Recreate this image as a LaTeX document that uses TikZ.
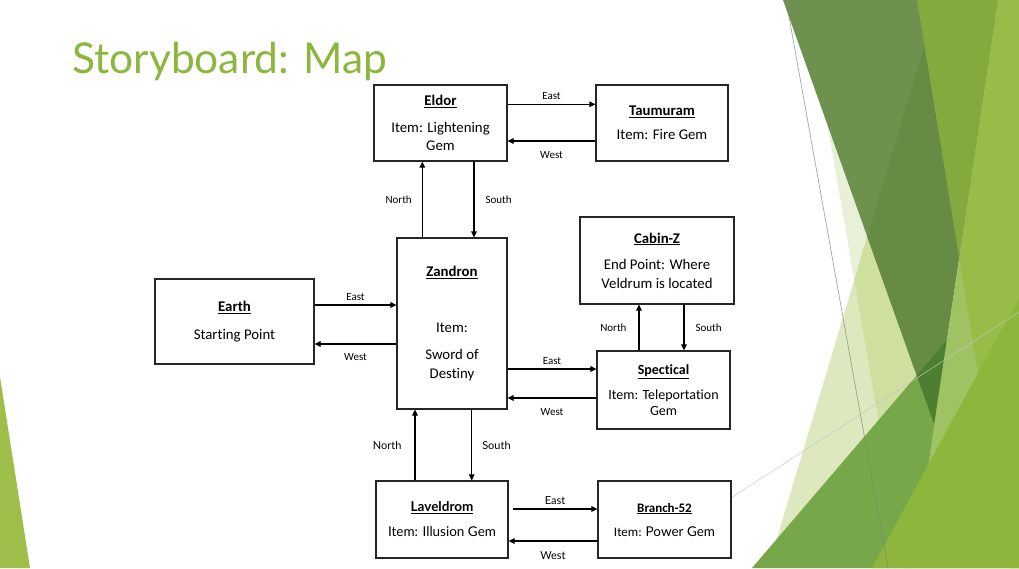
\documentclass[tikz,border=0pt]{standalone}
\usepackage{fontspec}
\setmainfont{Carlito}[Ligatures=NoCommon]
\newfontfamily\twcen{Lato}
\usetikzlibrary{positioning,arrows.meta}
\definecolor{titlegreen}{RGB}{140,182,60}
\definecolor{edgegreen}{RGB}{158,190,74}
\definecolor{facetQ}{HTML}{E8F0D8}
\definecolor{facetP}{HTML}{DDE8BE}
\definecolor{facetPQ}{HTML}{CEDF9F}
\definecolor{facetD}{HTML}{6E9150}
\definecolor{facetDP}{HTML}{678B45}
\definecolor{facetR}{HTML}{9FC262}
\definecolor{facetED}{HTML}{84A93F}
\definecolor{facetER}{HTML}{97BC48}
\definecolor{facetF}{HTML}{76A84A}
\definecolor{facetFD}{HTML}{4E7F30}
\definecolor{facetG}{HTML}{8EB63C}
\newcommand{\place}[1]{\textbf{\underline{#1}}}
\newcommand{\txt}[2]{\fontsize{#1}{#2}\selectfont}
\def\shQ{(806,0) -- (1019,0) -- (1019,568) -- (904,568) -- cycle}
\def\shP{(938,0) -- (1019,0) -- (1019,568) -- (768,568) -- cycle}
\def\shD{(783,0) -- (998,0) -- (934,424) -- cycle}
\def\shR{(998,0) -- (1019,0) -- (1019,568) -- (913,568) -- cycle}
\def\shE{(917,0) -- (1019,0) -- (1019,568) -- (1010,568) -- cycle}
\def\shF{(752,568) -- (947,340) -- (913,568) -- cycle}
\def\shG{(872,568) -- (1019,298) -- (1019,568) -- cycle}

\begin{document}
\begin{tikzpicture}[x=1pt, y=-1pt, >={Triangle[length=6pt, width=5.5pt]}]
\tikzset{
    every node/.style = {align=center, inner sep=0pt},
    box/.style = {draw=black!85, rectangle, line width=1.1pt, fill=white,
                  minimum width=133pt, minimum height=76pt, font=\txt{14.8}{18.5}},
    dir/.style = {font=\txt{11}{13}},
    twdir/.style = {font=\twcen\txt{11}{13}},
    link/.style = {->, line width=1.1pt}
}

% -------------------------------------------------------
% slide backdrop
\fill[white] (0,0) rectangle (1019,568);
\useasboundingbox (0,0) rectangle (1019,568);
\fill[edgegreen] (0,377) -- (30,568) -- (0,568) -- cycle;

\fill[facetQ] \shQ;
\fill[facetP] \shP;
\begin{scope} \clip \shP; \fill[facetPQ] \shQ; \end{scope}
\fill[facetD] \shD;
\begin{scope} \clip \shD; \fill[facetDP] \shP; \end{scope}
\fill[facetR] \shR;
\begin{scope} \clip \shE; \fill[facetED] \shD; \fill[facetER] \shR; \end{scope}
\fill[facetF] \shF;
\begin{scope} \clip \shF; \fill[facetFD] \shD; \end{scope}
\fill[facetG] \shG;
\draw[gray, line width=0.7pt, opacity=0.7] (786,0) -- (888,568);
\draw[gray!45, line width=0.6pt, opacity=0.8] (700,518) -- (1019,312);

\node[anchor=base west, text=titlegreen, font=\twcen\txt{42.5}{50}] (title) at (72,73) {Storyboard: Map};

% -------------------------------------------------------
\node[box] (eldor) at (440.5,123) {\place{Eldor}\\[8pt] Item: Lightening\\ Gem};
\node[box, minimum width=132pt] (taumuram) at (662,123) {\place{Taumuram}\\[6pt] Item: Fire Gem};
\node[box, minimum width=110pt, minimum height=171pt] (zandron) at (452,323.5)
    {\place{Zandron}\\[37pt] Item:\\[9pt] Sword of\\ Destiny};
\node[box, minimum width=159pt, minimum height=85pt] (earth) at (234.5,321.5)
    {\place{Earth}\\[9pt] Starting Point};
\node[box, minimum width=154pt, minimum height=87pt] (cabinz) at (657,260.5)
    {\place{Cabin-Z}\\[8pt] End Point: Where\\ Veldrum is located};
\node[box, minimum height=78pt, font=\txt{14}{16}] (spectical) at (663.5,390)
    {\place{Spectical}\\[9pt] Item: Teleportation\\ Gem};
\node[box, minimum width=132pt, minimum height=77pt, font=\twcen\txt{13.5}{18}] (laveldrom) at (442,519.5)
    {\place{Laveldrom}\\[7pt] Item: Illusion Gem};
\node[box, minimum height=77pt, font=\txt{13}{17}] (branch) at (664.5,519.5)
    {\place{Branch-52}\\[7pt] Item: {\twcen\txt{13.5}{17}Power Gem}};

% -------------------------------------------------------
\draw[link] ([yshift=18.7pt]eldor.east) -- node[dir, above=4pt] (e1) {East} ([yshift=18.7pt]taumuram.west);
\draw[link] ([yshift=-18pt]taumuram.west) -- node[dir, below=10pt] (w1) {West} ([yshift=-18pt]eldor.east);
\draw[link] ([xshift=33.5pt]eldor.south) -- node[dir, right=11pt] (s1) {South} ([xshift=22pt]zandron.north);
\draw[link] ([xshift=-29.7pt]zandron.north) -- node[dir, left=10pt] (n1) {North} ([xshift=-18.2pt]eldor.south);

\draw[link] ([yshift=16.5pt]earth.east) -- node[dir, above=4pt] (e2) {East} ([yshift=18.5pt]zandron.west);
\draw[link] ([yshift=-20.5pt]zandron.west) -- node[dir, below=9pt] (w2) {West} ([yshift=-22.5pt]earth.east);

\draw[link] ([yshift=-45.5pt]zandron.east) -- node[dir, above=4pt] (e3) {East} ([yshift=21pt]spectical.west);
\draw[link] ([yshift=-8pt]spectical.west) -- node[dir, below=10pt] (w3) {West} ([yshift=-74.5pt]zandron.east);
\draw[link] ([xshift=-24.5pt]spectical.north) -- node[dir, left=12pt] (n2) {North} ([xshift=-18pt]cabinz.south);
\draw[link] ([xshift=27pt]cabinz.south) -- node[dir, right=11pt] (s2) {South} ([xshift=20.5pt]spectical.north);

\draw[link] ([xshift=19.7pt]zandron.south) -- node[twdir, right=10pt] (s3) {South} ([xshift=29.7pt]laveldrom.north);
\draw[link] ([xshift=-27pt]laveldrom.north) -- node[twdir, left=13pt] (n3) {North} ([xshift=-37pt]zandron.south);
\draw[link] ([xshift=4pt, yshift=10.5pt]laveldrom.east) -- node[twdir, above=4pt] (e4) {East} ([yshift=10.5pt]branch.west);
\draw[link] ([yshift=-21.5pt]branch.west) -- node[twdir, below=10pt] (w4) {West} ([yshift=-21.5pt]laveldrom.east);
\end{tikzpicture}
\end{document}
